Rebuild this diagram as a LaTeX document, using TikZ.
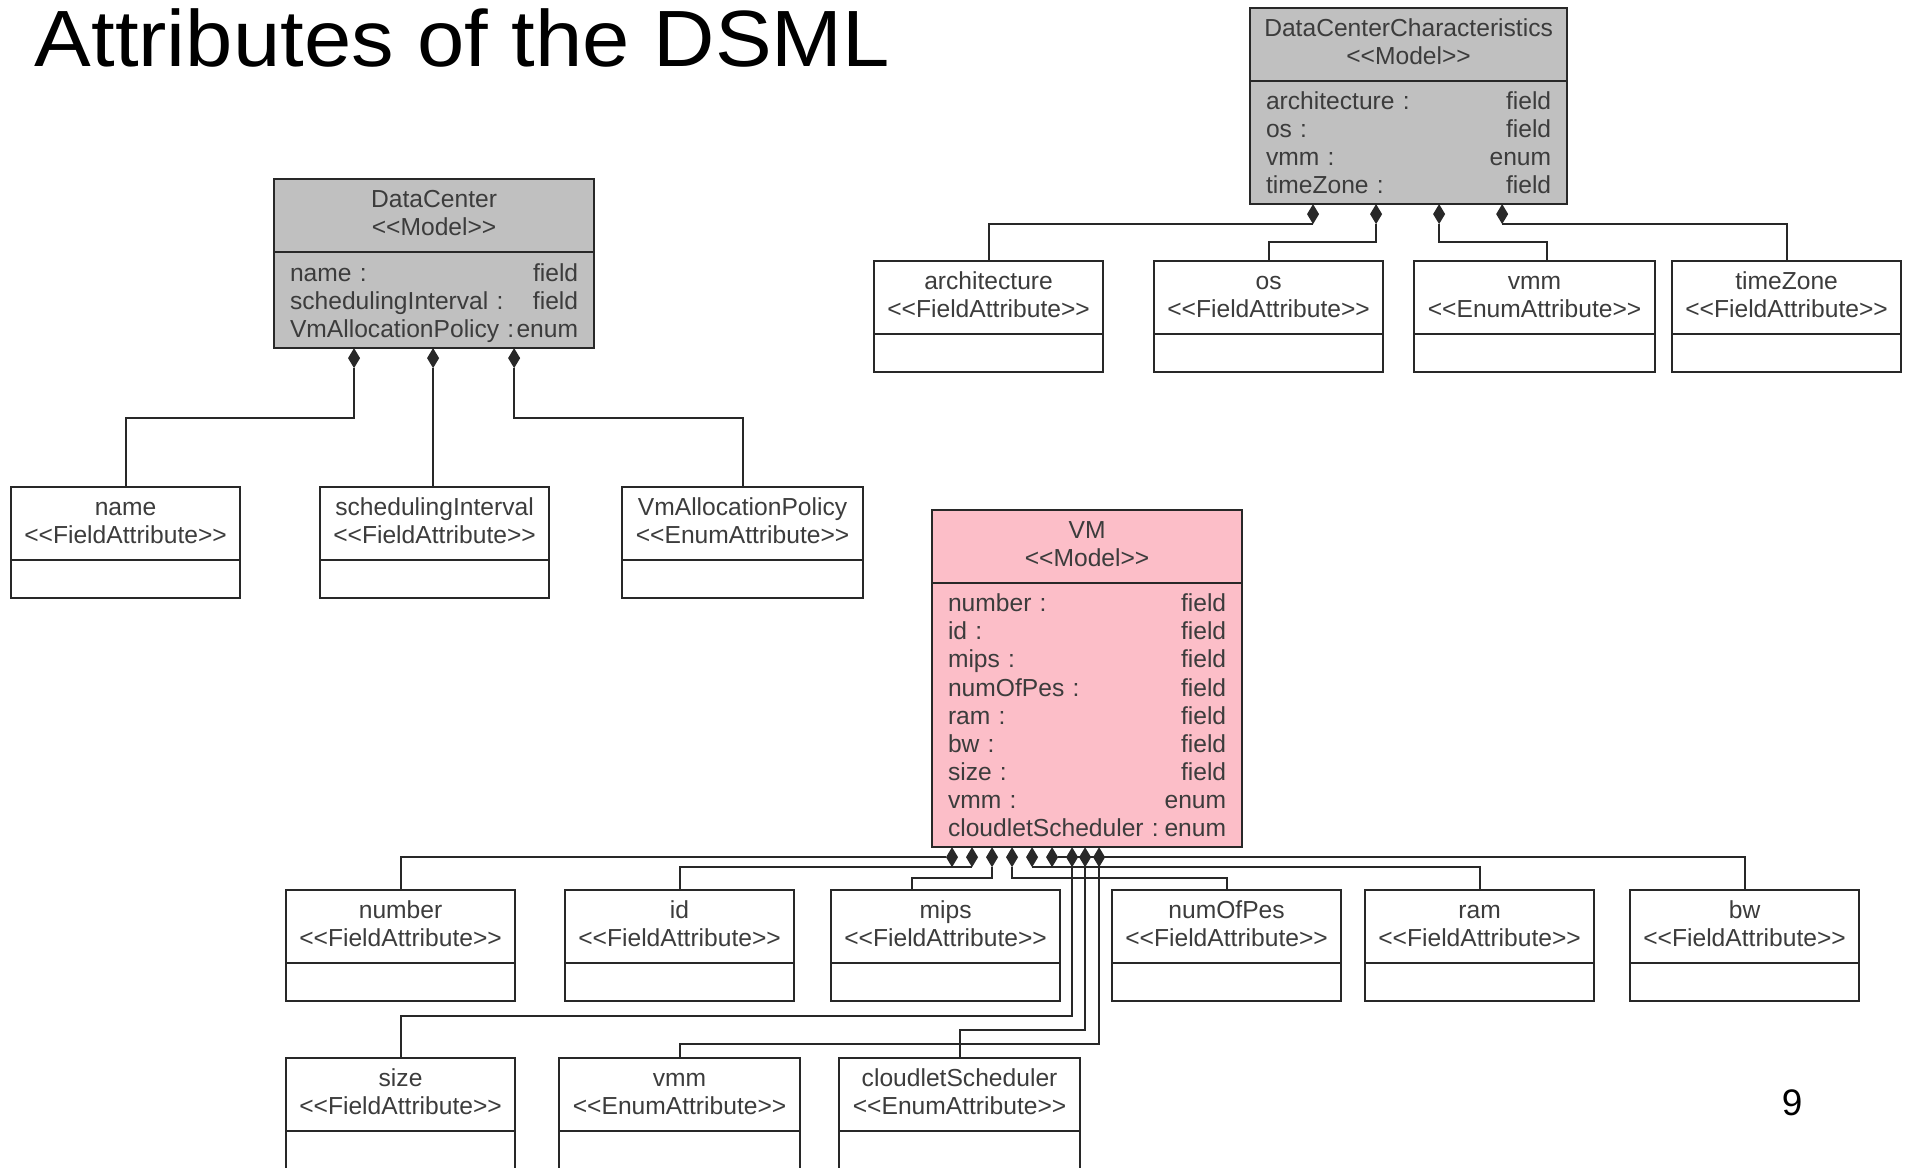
\documentclass[tikz,border=0pt]{standalone}
\usepackage{fontspec}
\setmainfont{Liberation Sans}
\usetikzlibrary{positioning,shapes.geometric}
\definecolor{linec}{RGB}{40,40,40}
\definecolor{textc}{RGB}{60,60,60}
\definecolor{modelgray}{RGB}{192,192,192}
\definecolor{vmpink}{RGB}{252,190,200}
\newcommand{\stereo}[1]{<{}<#1>{}>}
\newcommand{\umlhead}[2]{\strut#1\\\strut\stereo{#2}}
\newcommand{\umlrows}[1]{\rule{0pt}{7.6pt}#1\strut}
\newcommand{\boxfont}{\fontsize{7pt}{8pt}\selectfont}
\tikzset{
  uml/.style={draw=linec, line width=0.6pt, inner sep=0pt, outer sep=0pt, anchor=north west,
    align=center, text=textc, font=\boxfont},
  modelhead/.style={uml, fill=#1, minimum height=0.73cm},
  modelbody/.style={uml, fill=#1, inner xsep=0.16cm, align=left},
  attrhead/.style={uml, fill=white, minimum width=#1, minimum height=0.73cm},
  attrfoot/.style={uml, fill=white, minimum width=#1, minimum height=0.38cm},
  comp/.style={diamond, fill=linec, inner sep=0pt, outer sep=0pt, minimum width=0.12cm,
    minimum height=0.2cm, anchor=north},
  conn/.style={draw=linec, line width=0.6pt}
}
\begin{document}
\begin{tikzpicture}[x=0.01cm,y=-0.01cm]
  \useasboundingbox (0,0) rectangle (1906,1168);
  \node[anchor=base west, inner sep=0pt, font=\fontsize{22.7pt}{27pt}\selectfont] (title) at (34,67) {\scalebox{1.065}[1]{Attributes of the DSML}};
  \node[font=\fontsize{10.5pt}{12pt}\selectfont] (page) at (1792,1103) {9};

  % models
  \node[modelhead=modelgray, minimum width=3.2cm] (dc) at (274,179) {\umlhead{DataCenter}{Model}};
  \node[modelbody=modelgray, text width=2.88cm, minimum height=0.96cm, below=0pt of dc] (dcB)
    {\umlrows{name :\hfill field\\schedulingInterval :\hfill field\\VmAllocationPolicy :\hfill enum}};
  \node[modelhead=modelgray, minimum width=3.17cm] (dcc) at (1250,8) {\umlhead{DataCenterCharacteristics}{Model}};
  \node[modelbody=modelgray, text width=2.85cm, minimum height=1.23cm, below=0pt of dcc] (dccB)
    {\umlrows{architecture :\hfill field\\os :\hfill field\\vmm :\hfill enum\\timeZone :\hfill field}};
  \node[modelhead=vmpink, minimum width=3.1cm] (vm) at (932,510) {\umlhead{VM}{Model}};
  \node[modelbody=vmpink, text width=2.78cm, minimum height=2.64cm, below=0pt of vm] (vmB)
    {\umlrows{number :\hfill field\\id :\hfill field\\mips :\hfill field\\numOfPes :\hfill field\\ram :\hfill field\\bw :\hfill field\\size :\hfill field\\vmm :\hfill enum\\cloudletScheduler :\hfill enum}};

  % attributes of DataCenter
  \node[attrhead=2.29cm] (name) at (11,487) {\umlhead{name}{FieldAttribute}};
  \node[attrfoot=2.29cm, below=0pt of name] (nameF) {};
  \node[attrhead=2.29cm] (sched) at (320,487) {\umlhead{schedulingInterval}{FieldAttribute}};
  \node[attrfoot=2.29cm, below=0pt of sched] (schedF) {};
  \node[attrhead=2.41cm] (policy) at (622,487) {\umlhead{VmAllocationPolicy}{EnumAttribute}};
  \node[attrfoot=2.41cm, below=0pt of policy] (policyF) {};

  % attributes of DataCenterCharacteristics
  \node[attrhead=2.29cm] (arch) at (874,261) {\umlhead{architecture}{FieldAttribute}};
  \node[attrfoot=2.29cm, below=0pt of arch] (archF) {};
  \node[attrhead=2.29cm] (os) at (1154,261) {\umlhead{os}{FieldAttribute}};
  \node[attrfoot=2.29cm, below=0pt of os] (osF) {};
  \node[attrhead=2.41cm] (vmmA) at (1414,261) {\umlhead{vmm}{EnumAttribute}};
  \node[attrfoot=2.41cm, below=0pt of vmmA] (vmmAF) {};
  \node[attrhead=2.29cm] (tz) at (1672,261) {\umlhead{timeZone}{FieldAttribute}};
  \node[attrfoot=2.29cm, below=0pt of tz] (tzF) {};

  % attributes of VM
  \node[attrhead=2.29cm] (number) at (286,890) {\umlhead{number}{FieldAttribute}};
  \node[attrfoot=2.29cm, below=0pt of number] (numberF) {};
  \node[attrhead=2.29cm] (id) at (565,890) {\umlhead{id}{FieldAttribute}};
  \node[attrfoot=2.29cm, below=0pt of id] (idF) {};
  \node[attrhead=2.29cm] (mips) at (831,890) {\umlhead{mips}{FieldAttribute}};
  \node[attrfoot=2.29cm, below=0pt of mips] (mipsF) {};
  \node[attrhead=2.29cm] (pes) at (1112,890) {\umlhead{numOfPes}{FieldAttribute}};
  \node[attrfoot=2.29cm, below=0pt of pes] (pesF) {};
  \node[attrhead=2.29cm] (ram) at (1365,890) {\umlhead{ram}{FieldAttribute}};
  \node[attrfoot=2.29cm, below=0pt of ram] (ramF) {};
  \node[attrhead=2.29cm] (bw) at (1630,890) {\umlhead{bw}{FieldAttribute}};
  \node[attrfoot=2.29cm, below=0pt of bw] (bwF) {};
  \node[attrhead=2.29cm] (size) at (286,1058) {\umlhead{size}{FieldAttribute}};
  \node[attrfoot=2.29cm, below=0pt of size] (sizeF) {};
  \node[attrhead=2.41cm] (vmmB) at (559,1058) {\umlhead{vmm}{EnumAttribute}};
  \node[attrfoot=2.41cm, below=0pt of vmmB] (vmmBF) {};
  \node[attrhead=2.41cm] (cloud) at (839,1058) {\umlhead{cloudletScheduler}{EnumAttribute}};
  \node[attrfoot=2.41cm, below=0pt of cloud] (cloudF) {};

  % composition diamonds
  \node[comp] (dcName) at ([xshift=0.8cm]dcB.south west) {};
  \node[comp] (dcSched) at ([xshift=1.59cm]dcB.south west) {};
  \node[comp] (dcPolicy) at ([xshift=2.4cm]dcB.south west) {};
  \node[comp] (dccArch) at ([xshift=0.63cm]dccB.south west) {};
  \node[comp] (dccOs) at ([xshift=1.26cm]dccB.south west) {};
  \node[comp] (dccVmm) at ([xshift=1.89cm]dccB.south west) {};
  \node[comp] (dccTz) at ([xshift=2.52cm]dccB.south west) {};
  \node[comp] (vmNumber) at ([xshift=0.2cm]vmB.south west) {};
  \node[comp] (vmId) at ([xshift=0.4cm]vmB.south west) {};
  \node[comp] (vmMips) at ([xshift=0.6cm]vmB.south west) {};
  \node[comp] (vmPes) at ([xshift=0.8cm]vmB.south west) {};
  \node[comp] (vmRam) at ([xshift=1.0cm]vmB.south west) {};
  \node[comp] (vmBw) at ([xshift=1.2cm]vmB.south west) {};
  \node[comp] (vmSize) at ([xshift=1.4cm]vmB.south west) {};
  \node[comp] (vmCloud) at ([xshift=1.53cm]vmB.south west) {};
  \node[comp] (vmVmm) at ([xshift=1.67cm]vmB.south west) {};

  % connectors
  \draw[conn] (dcName.south) -- ++(0,50) -| (name.north);
  \draw[conn] (dcSched.south) -- (dcSched.south |- sched.north);
  \draw[conn] (dcPolicy.south) -- ++(0,50) -| (policy.north);

  \draw[conn] (dccArch.south) -| (arch.north);
  \draw[conn] (dccOs.south) -- ++(0,18) -| (os.north);
  \draw[conn] (dccVmm.south) -- ++(0,18) -| ([xshift=0.12cm]vmmA.north);
  \draw[conn] (dccTz.south) -| (tz.north);

  \draw[conn] (vmNumber.west) -| (number.north);
  \draw[conn] (vmId.south) -| (id.north);
  \draw[conn] (vmMips.south) -- ++(0,11) -| ([xshift=-0.34cm]mips.north);
  \draw[conn] (vmPes.south) -- ++(0,11) -| (pes.north);
  \draw[conn] (vmRam.south) -| (ram.north);
  \draw[conn] (vmBw.east) -| (bw.north);
  \draw[conn] (vmSize.south) -- ++(0,149) -| (size.north);
  \draw[conn] (vmCloud.south) -- ++(0,163) -| (cloud.north);
  \draw[conn] (vmVmm.south) -- ++(0,177) -| (vmmB.north);
\end{tikzpicture}
\end{document}
